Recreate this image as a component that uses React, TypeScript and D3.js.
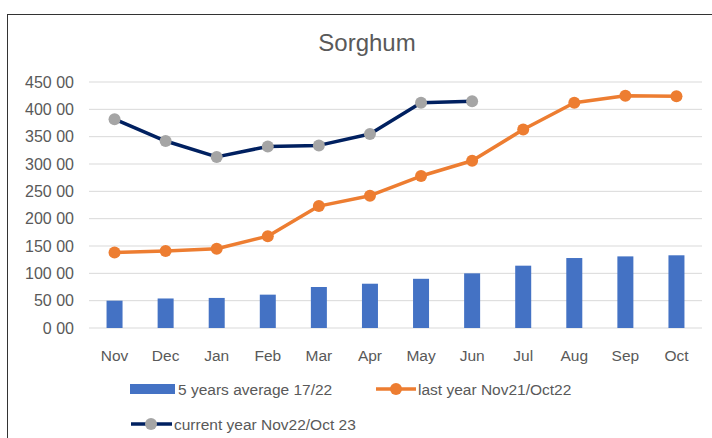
import React from 'react';
import * as d3 from 'd3';

const months = ['Nov', 'Dec', 'Jan', 'Feb', 'Mar', 'Apr', 'May', 'Jun', 'Jul', 'Aug', 'Sep', 'Oct'];
const avg5y = [50, 54, 55, 61, 75, 81, 90, 100, 114, 128, 131, 133];
const lastYear = [138, 141, 145, 168, 223, 242, 278, 306, 363, 412, 425, 424];
const currentYear = [382, 342, 313, 332, 334, 355, 412, 415];
const yTicks = [0, 50, 100, 150, 200, 250, 300, 350, 400, 450];

const W = 712;
const H = 438;
const margin = { left: 89, right: 10, top: 82, bottom: 110 };
const font = 'Liberation Sans, Arial, sans-serif';
const grey = '#595959';
const blue = '#4472C4';
const orange = '#ED7D31';
const navy = '#002060';
const markerGrey = '#A5A5A5';

const fmt = (v: number) => `${v} 00`;

export default function App() {
  const x = d3
    .scaleBand()
    .domain(months)
    .range([margin.left, W - margin.right])
    .paddingInner(0);
  const y = d3.scaleLinear().domain([0, 450]).range([H - margin.bottom, margin.top]);
  const cx = (m: string) => (x(m) ?? 0) + x.bandwidth() / 2;
  const barW = 16;

  // line generators
  const lastLine = d3
    .line<number>()
    .x((_, i) => cx(months[i]))
    .y((d) => y(d));
  const curLine = d3
    .line<number>()
    .x((_, i) => cx(months[i]))
    .y((d) => y(d));

  return (
    <svg
      width={W}
      height={H}
      style={{ position: 'fixed', top: 0, left: 0, background: '#fff' }}
      fontFamily={font}
    >
      <rect x={0} y={0} width={W} height={H} fill="#fff" />
      {/* chart frame */}
      <line x1={7.5} y1={14} x2={7.5} y2={H} stroke="#333" strokeWidth={1} />
      <line x1={7} y1={14.5} x2={W} y2={14.5} stroke="#333" strokeWidth={1} />

      <text x={367} y={51} textAnchor="middle" fontSize={24} fill={grey}>
        Sorghum
      </text>

      {/* grid + y labels */}
      {yTicks.map((t) => (
        <g key={t}>
          <line
            x1={margin.left}
            x2={W - margin.right}
            y1={y(t)}
            y2={y(t)}
            stroke="#d9d9d9"
            strokeWidth={1}
          />
          <text x={74} y={y(t) + 5.5} textAnchor="end" fontSize={16} fill={grey}>
            {fmt(t)}
          </text>
        </g>
      ))}

      {/* bars */}
      {avg5y.map((v, i) => (
        <rect
          key={months[i]}
          x={cx(months[i]) - barW / 2}
          y={y(v)}
          width={barW}
          height={y(0) - y(v)}
          fill={blue}
        />
      ))}

      {/* last year */}
      <path d={lastLine(lastYear) ?? ''} fill="none" stroke={orange} strokeWidth={3.5} strokeLinejoin="round" />
      {lastYear.map((v, i) => (
        <circle key={'l' + i} cx={cx(months[i])} cy={y(v)} r={6} fill={orange} />
      ))}

      {/* current year */}
      <path d={curLine(currentYear) ?? ''} fill="none" stroke={navy} strokeWidth={3.5} strokeLinejoin="round" />
      {currentYear.map((v, i) => (
        <circle key={'c' + i} cx={cx(months[i])} cy={y(v)} r={6} fill={markerGrey} />
      ))}

      {/* x labels */}
      {months.map((m) => (
        <text key={m} x={cx(m)} y={361} textAnchor="middle" fontSize={15.5} fill={grey}>
          {m}
        </text>
      ))}

      {/* legend */}
      <g fontSize={15.5} fill={grey}>
        <rect x={130} y={384} width={45} height={10} fill={blue} />
        <text x={178} y={394.5}>5 years average 17/22</text>

        <line x1={376} x2={416} y1={389} y2={389} stroke={orange} strokeWidth={3.5} />
        <circle cx={396} cy={389} r={6} fill={orange} />
        <text x={418} y={394.5}>last year Nov21/Oct22</text>

        <line x1={131} x2={172} y1={424} y2={424} stroke={navy} strokeWidth={3.5} />
        <circle cx={151} cy={424} r={6} fill={markerGrey} />
        <text x={174} y={429.5}>current year Nov22/Oct 23</text>
      </g>
    </svg>
  );
}
